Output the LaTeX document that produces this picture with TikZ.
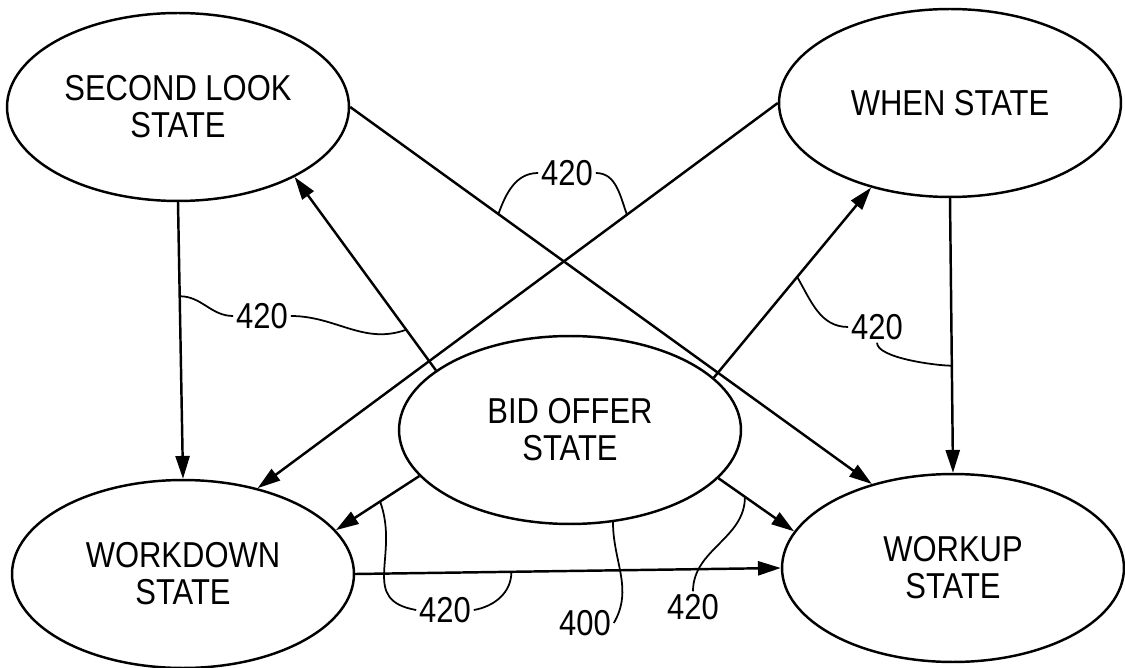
\documentclass[tikz,border=0pt]{standalone}
\usepackage{fontspec}
\setmainfont{Liberation Sans}[FakeStretch=0.86]
\usetikzlibrary{shapes.geometric, arrows.meta}

\begin{document}
\begin{tikzpicture}[x=0.02cm, y=-0.02cm, line width=1.4pt, >={Triangle[length=13pt,width=8pt]},
        main/.style = {draw, ellipse, minimum width=6.84cm, minimum height=3.76cm, inner sep=0pt, align=center, font=\fontsize{20.5}{21}\selectfont},
        num/.style = {inner sep=1pt, font=\fontsize{20.5}{21}\selectfont},
        lead/.style = {line width=1pt}]
        \useasboundingbox (0, 0) rectangle (1125, 668);
        \node[main] at (178, 107) (sl) {SECOND LOOK\\STATE};
        \node[main] at (950, 103) (when) {WHEN STATE};
        \node[main] at (570, 430) (bid) {BID OFFER\\STATE};
        \node[main] at (183, 574) (wd) {WORKDOWN\\STATE};
        \node[main] at (953, 568) (wu) {WORKUP\\STATE};
        \draw[->] (sl.south) -- coordinate[pos=0.34] (p1) (wd.north);
        \draw[->] (when.south) -- coordinate[pos=0.61] (p2) (wu.north);
        \draw[->] (sl.east) -- coordinate[pos=0.284] (p3) (wu.134);
        \draw[->] (when.west) -- coordinate[pos=0.29] (p4) (wd.49);
        \draw[->] (bid.156) -- coordinate[pos=0.21] (p5) (sl.329);
        \draw[->] (bid.20) -- coordinate[pos=0.53] (p6) (when.227);
        \draw[->] (bid.197) -- coordinate[pos=0.47] (p7) (wd.16);
        \draw[->] (bid.342) -- coordinate[pos=0.35] (p8) (wu.167);
        \draw[->] (wd.east) -- coordinate[pos=0.367] (p9) (wu.west);
        \node[num] at (262, 316) (n1) {420};
        \node[num] at (567, 173) (n2) {420};
        \node[num] at (877, 327) (n3) {420};
        \node[num] at (445, 610) (n4) {420};
        \node[num] at (585, 623) (n5) {400};
        \node[num] at (693, 607) (n6) {420};
        \draw[lead] (n1.west) to [out=180,in=0] (p1);
        \draw[lead] (n1.east) to [out=0,in=200] (p5);
        \draw[lead] (n2.west) to [out=180,in=70] (p3);
        \draw[lead] (n2.east) to [out=0,in=110] (p4);
        \draw[lead] (n3.west) to [out=180,in=-60] (p6);
        \draw[lead] (n3.south) to [out=-90,in=180,looseness=0.5] (p2);
        \draw[lead] (n4.west) to [out=170,in=-70,looseness=1.3] (p7);
        \draw[lead] (n4.east) to [out=10,in=-90] (p9);
        \draw[lead] (n5.east) to [out=60,in=-90] (bid.295);
        \draw[lead] (n6.north) to [out=90,in=-90] (p8);
\end{tikzpicture}
\end{document}
